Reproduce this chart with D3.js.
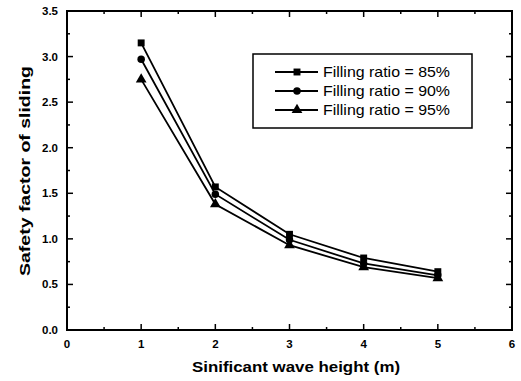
<!DOCTYPE html>
<html>
<head>
<meta charset="utf-8">
<title>safety factor</title>
<script src="https://d3js.org/d3.v7.min.js"></script>
<style>
  body { margin: 0; background: #fff; }
  text { font-family: "Liberation Sans", Arial, sans-serif; fill: #000; }
</style>
</head>
<body>
<svg id="chart" width="521" height="381"></svg>
<script>
var waveHeight = [1, 2, 3, 4, 5]
var sf85 = [3.15, 1.57, 1.05, 0.79, 0.64]
var sf90 = [2.97, 1.49, 0.99, 0.73, 0.60]
var sf95 = [2.75, 1.38, 0.93, 0.69, 0.57]
var seriesNames = ["Filling ratio = 85%", "Filling ratio = 90%", "Filling ratio = 95%"]
var xTicks = [0, 1, 2, 3, 4, 5, 6]
var yTicks = [0, 0.5, 1.0, 1.5, 2.0, 2.5, 3.0, 3.5]

var svg = d3.select("#chart")
// plot frame (note: "top" is taken by window.top, so use other names)
var pLeft = 67, pRight = 512, pTop = 11, pBottom = 330

var x = d3.scaleLinear().domain([0, 6]).range([pLeft, pRight])
var y = d3.scaleLinear().domain([0, 3.5]).range([pBottom, pTop])

// ticks, all pointing inward
var g = svg.append("g")
d3.range(0, 6.01, 0.5).forEach(function(v) {
    var len = (v % 1 === 0) ? 6 : 3
    g.append("line").attr("x1", x(v)).attr("x2", x(v)).attr("y1", pBottom).attr("y2", pBottom - len)
    g.append("line").attr("x1", x(v)).attr("x2", x(v)).attr("y1", pTop).attr("y2", pTop + len)
})
d3.range(0, 3.51, 0.25).forEach(function(v) {
    var len = (Math.abs(v * 2 - Math.round(v * 2)) < 1e-6) ? 6 : 3
    g.append("line").attr("x1", pLeft).attr("x2", pLeft + len).attr("y1", y(v)).attr("y2", y(v))
    g.append("line").attr("x1", pRight).attr("x2", pRight - len).attr("y1", y(v)).attr("y2", y(v))
})
g.selectAll("line").attr("stroke", "#000").attr("stroke-width", 1.5)

svg.append("rect")
    .attr("x", pLeft).attr("y", pTop)
    .attr("width", pRight - pLeft).attr("height", pBottom - pTop)
    .attr("fill", "none").attr("stroke", "#000").attr("stroke-width", 2)

svg.selectAll(".xlab").data(xTicks).enter().append("text")
    .attr("x", function(d) { return x(d) }).attr("y", pBottom + 18)
    .attr("text-anchor", "middle").attr("font-size", 11.5).attr("font-weight", "bold")
    .text(function(d) { return d })

svg.selectAll(".ylab").data(yTicks).enter().append("text")
    .attr("x", pLeft - 9).attr("y", function(d) { return y(d) + 4 })
    .attr("text-anchor", "end").attr("font-size", 11.5).attr("font-weight", "bold")
    .text(function(d) { return d.toFixed(1) })

svg.append("text").attr("x", 296).attr("y", 372)
    .attr("text-anchor", "middle").attr("font-size", 15).attr("font-weight", "bold")
    .attr("textLength", 208).attr("lengthAdjust", "spacingAndGlyphs")
    .text("Sinificant wave height (m)")

svg.append("text").attr("transform", "translate(30,171) rotate(-90)")
    .attr("text-anchor", "middle").attr("font-size", 15.5).attr("font-weight", "bold")
    .attr("textLength", 210).attr("lengthAdjust", "spacingAndGlyphs")
    .text("Safety factor of sliding")

var series = [sf85, sf90, sf95]
var shapes = [d3.symbolSquare, d3.symbolCircle, d3.symbolTriangle]
var sizes = [48, 44, 50]

var line = d3.line()
    .x(function(d, i) { return x(waveHeight[i]) })
    .y(function(d) { return y(d) })

series.forEach(function(s, k) {
    svg.append("path").attr("d", line(s))
        .attr("fill", "none").attr("stroke", "#000").attr("stroke-width", 1.8)
    svg.selectAll(".m" + k).data(s).enter().append("path")
        .attr("d", d3.symbol().type(shapes[k]).size(sizes[k]))
        .attr("transform", function(d, i) { return "translate(" + x(waveHeight[i]) + "," + y(d) + ")" })
        .attr("fill", "#000")
})

// legend
svg.append("rect").attr("x", 253).attr("y", 54).attr("width", 219).attr("height", 74)
    .attr("fill", "#fff").attr("stroke", "#000").attr("stroke-width", 1.5)
seriesNames.forEach(function(name, k) {
    var ly = 72 + k * 19
    svg.append("line").attr("x1", 275).attr("x2", 318).attr("y1", ly).attr("y2", ly)
        .attr("stroke", "#000").attr("stroke-width", 1.8)
    svg.append("path").attr("d", d3.symbol().type(shapes[k]).size(sizes[k]))
        .attr("transform", "translate(297," + ly + ")").attr("fill", "#000")
    svg.append("text").attr("x", 323).attr("y", ly + 5).attr("font-size", 14.5)
        .attr("textLength", 127).attr("lengthAdjust", "spacingAndGlyphs")
        .text(name)
})
</script>
</body>
</html>
